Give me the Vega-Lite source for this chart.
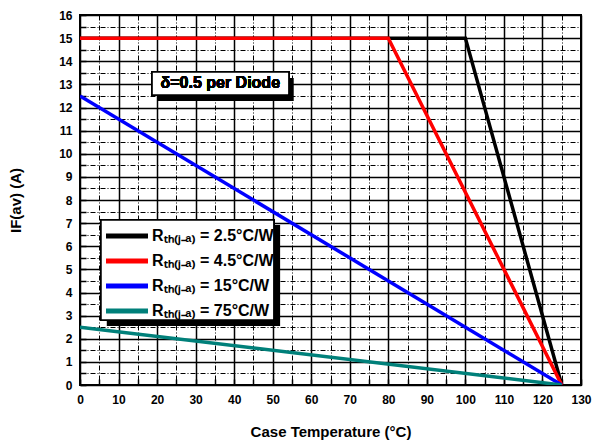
{
  "$schema": "https://vega.github.io/schema/vega-lite/v6.json",
  "width": 501,
  "height": 370,
  "autosize": "none",
  "padding": {"left": 80, "top": 15, "right": 25, "bottom": 58},
  "background": "white",
  "config": {
    "view": {"stroke": "black", "strokeWidth": 2},
    "font": "Liberation Sans",
    "axis": {
      "labelFont": "Liberation Sans", "labelFontSize": 12, "labelFontWeight": "bold", "labelColor": "black",
      "labelFlush": false, "labelOverlap": false,
      "titleFont": "Liberation Sans", "titleFontSize": 15, "titleFontWeight": "bold", "titleColor": "black",
      "domain": false,
      "ticks": true, "tickSize": -6, "tickColor": "black", "tickWidth": 1.5,
      "grid": true, "gridColor": "black", "gridOpacity": 1
    },
    "axisX": {
      "tickCount": 26,
      "labelExpr": "datum.value % 10 === 0 ? datum.label : ''",
      "labelPadding": 15, "titlePadding": 19,
      "gridWidth": {"condition": {"test": "datum.value % 10 === 0", "value": 1.5}, "value": 1},
      "gridDash": {"condition": {"test": "datum.value % 10 === 0", "value": []}, "value": [5, 2, 1, 2]}
    },
    "axisY": {
      "tickCount": 32,
      "labelExpr": "datum.value % 1 === 0 ? format(datum.value, 'd') : ''",
      "labelPadding": 14, "titlePadding": 35,
      "gridWidth": {"condition": {"test": "datum.value % 1 === 0", "value": 1.5}, "value": 1},
      "gridDash": {"condition": {"test": "datum.value % 1 === 0", "value": []}, "value": [5, 2, 1, 2]}
    }
  },
  "data": {
    "values": [
      {"t": 0, "i": 15, "s": "Rₜₕ₍ⱼ₋ₐ₎ = 2.5°C/W"},
      {"t": 100, "i": 15, "s": "Rₜₕ₍ⱼ₋ₐ₎ = 2.5°C/W"},
      {"t": 125, "i": 0, "s": "Rₜₕ₍ⱼ₋ₐ₎ = 2.5°C/W"},
      {"t": 0, "i": 15, "s": "Rₜₕ₍ⱼ₋ₐ₎ = 4.5°C/W"},
      {"t": 80, "i": 15, "s": "Rₜₕ₍ⱼ₋ₐ₎ = 4.5°C/W"},
      {"t": 125, "i": 0, "s": "Rₜₕ₍ⱼ₋ₐ₎ = 4.5°C/W"},
      {"t": 0, "i": 12.5, "s": "Rₜₕ₍ⱼ₋ₐ₎ = 15°C/W"},
      {"t": 125, "i": 0, "s": "Rₜₕ₍ⱼ₋ₐ₎ = 15°C/W"},
      {"t": 0, "i": 2.5, "s": "Rₜₕ₍ⱼ₋ₐ₎ = 75°C/W"},
      {"t": 125, "i": 0, "s": "Rₜₕ₍ⱼ₋ₐ₎ = 75°C/W"}
    ]
  },
  "layer": [
    {
      "mark": {"type": "line", "strokeWidth": 3.5, "clip": true},
      "encoding": {
        "x": {
          "field": "t", "type": "quantitative",
          "scale": {"domain": [0, 130], "nice": false, "zero": false},
          "axis": {"title": "Case Temperature (°C)"}
        },
        "y": {
          "field": "i", "type": "quantitative",
          "scale": {"domain": [0, 16], "nice": false},
          "axis": {"title": "IF(av) (A)"}
        },
        "color": {
          "field": "s", "type": "nominal",
          "scale": {
            "domain": ["Rₜₕ₍ⱼ₋ₐ₎ = 2.5°C/W", "Rₜₕ₍ⱼ₋ₐ₎ = 4.5°C/W", "Rₜₕ₍ⱼ₋ₐ₎ = 15°C/W", "Rₜₕ₍ⱼ₋ₐ₎ = 75°C/W"],
            "range": ["#000000", "#ff0000", "#0000ff", "#00807a"]
          },
          "legend": {
            "orient": "none", "legendX": 34, "legendY": 208,
            "title": null,
            "symbolType": "M-2,0H2", "symbolSize": 441, "symbolStrokeWidth": 5,
            "labelFont": "Liberation Sans", "labelFontSize": 16, "labelFontWeight": "bold", "labelColor": "black",
            "labelOffset": 12, "rowPadding": 2, "padding": 0
          }
        }
      }
    },
    {
      "mark": {"type": "rect", "fill": "black"},
      "encoding": {
        "x": {"datum": 7}, "x2": {"datum": 51.9},
        "y": {"datum": 6.92}, "y2": {"datum": 2.55}
      }
    },
    {
      "mark": {"type": "rect", "fill": "white", "stroke": "black", "strokeWidth": 1.5},
      "encoding": {
        "x": {"datum": 5.45}, "x2": {"datum": 50.3},
        "y": {"datum": 7.14}, "y2": {"datum": 2.81}
      }
    },
    {
      "mark": {"type": "rect", "fill": "black"},
      "encoding": {
        "x": {"datum": 20.2}, "x2": {"datum": 55.3},
        "y": {"datum": 13.28}, "y2": {"datum": 12.28}
      }
    },
    {
      "mark": {"type": "rect", "fill": "white", "stroke": "black", "strokeWidth": 1.5},
      "encoding": {
        "x": {"datum": 18.7}, "x2": {"datum": 54.2},
        "y": {"datum": 13.54}, "y2": {"datum": 12.54}
      }
    },
    {
      "mark": {"type": "text", "font": "Liberation Sans", "fontSize": 16, "fontWeight": "bold", "color": "black", "align": "center", "baseline": "middle"},
      "encoding": {
        "x": {"datum": 36.4}, "y": {"datum": 13.04},
        "text": {"value": "δ=0.5 per Diode"}
      }
    }
  ]
}
